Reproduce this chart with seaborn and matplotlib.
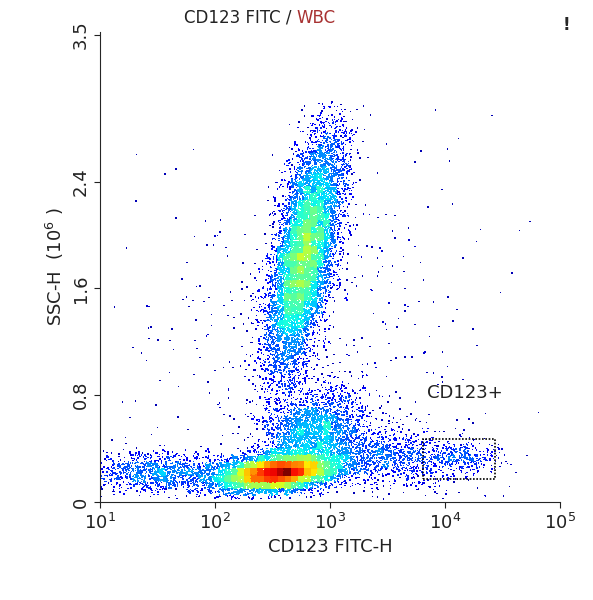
import numpy as np
import matplotlib
matplotlib.use("Agg")
import matplotlib.pyplot as plt
import seaborn as sns
from matplotlib.patches import Rectangle

pop_names = ["lymphocytes", "granulocytes", "monocytes", "cd123", "low_streak", "bridge", "background"]
pop_cx = [2.55, 2.78, 2.85, 4.15, 1.55, 3.45, 2.9]
pop_cy = [0.22, 1.85, 0.52, 0.33, 0.22, 0.35, 1.2]
pop_sx = [0.26, 0.16, 0.22, 0.16, 0.35, 0.35, 0.8]
pop_sy = [0.07, 0.45, 0.16, 0.06, 0.08, 0.12, 0.8]
pop_n = [8000, 9000, 2200, 250, 1200, 1200, 500]
pop_rho = [0.3, 0.6, 0.3, 0.0, 0.0, -0.3, 0.0]

x_ticks = [1, 2, 3, 4, 5]
y_ticks = [0, 0.8, 1.6, 2.4, 3.5]
y_ticklabels = ["0", "0.8", "1.6", "2.4", "3.5"]

rng = np.random.default_rng(7)
xs, ys = [], []
for cx, cy, sx, sy, n, r in zip(pop_cx, pop_cy, pop_sx, pop_sy, pop_n, pop_rho):
    cov = [[sx**2, r*sx*sy], [r*sx*sy, sy**2]]
    p = rng.multivariate_normal([cx, cy], cov, n)
    xs.append(p[:, 0]); ys.append(p[:, 1])
lx = np.concatenate(xs); y = np.concatenate(ys)
keep = (lx > 1.0) & (lx < 4.95) & (y > 0.02) & (y < 3.0)
lx, y = lx[keep], y[keep]

nb = 70
H, xe, ye = np.histogram2d(lx, y, bins=[nb, nb], range=[[1, 5], [0, 3.52]])
ix = np.clip(np.digitize(lx, xe) - 1, 0, nb-1)
iy = np.clip(np.digitize(y, ye) - 1, 0, nb-1)
d = H[ix, iy] ** 0.55
order = np.argsort(d)

sns.set_style("white")
fig = plt.figure(figsize=(5.93, 6.0), dpi=100)
ax = fig.add_axes([100/593, 1-502/600, 460/593, 470/600])
sns.scatterplot(x=10**lx[order], y=y[order], hue=d[order], palette=matplotlib.colormaps["jet"],
                hue_norm=(0, d.max()), s=1.2, marker="s", linewidth=0, legend=False, ax=ax)
ax.set_xscale("log")
ax.set_xlim(10, 1e5)
ax.set_ylim(0, 3.52)
ax.set_xticks([10.0**k for k in x_ticks])
ax.set_yticks(y_ticks)
ax.set_yticklabels(y_ticklabels, rotation=90, va="center")
ax.minorticks_off()
ax.tick_params(labelsize=13, length=4, direction="out", left=True, bottom=True, colors="#222222")
for s in ["top", "right"]:
    ax.spines[s].set_visible(False)
ax.set_xlabel("CD123 FITC-H", fontsize=13, color="#222222")
ax.set_ylabel("SSC-H  (10$^6$ )", fontsize=13, color="#222222")
ax.add_patch(Rectangle((6500, 0.17), 27000-6500, 0.30, fill=False, ec="black", lw=1.2,
                       ls=(0, (1, 1)), zorder=5))
ax.text(7000, 0.78, "CD123+", fontsize=13, color="#222222")
fig.text(0.5, 1-18/600, "CD123 FITC / ", ha="right", va="center", fontsize=12, color="#222222")
fig.text(0.5, 1-18/600, "WBC", ha="left", va="center", fontsize=12, color="#a83232")
fig.text(0.955, 1-25/600, "!", ha="center", va="center", fontsize=12, weight="bold")
fig.savefig("out.png", dpi=100)
